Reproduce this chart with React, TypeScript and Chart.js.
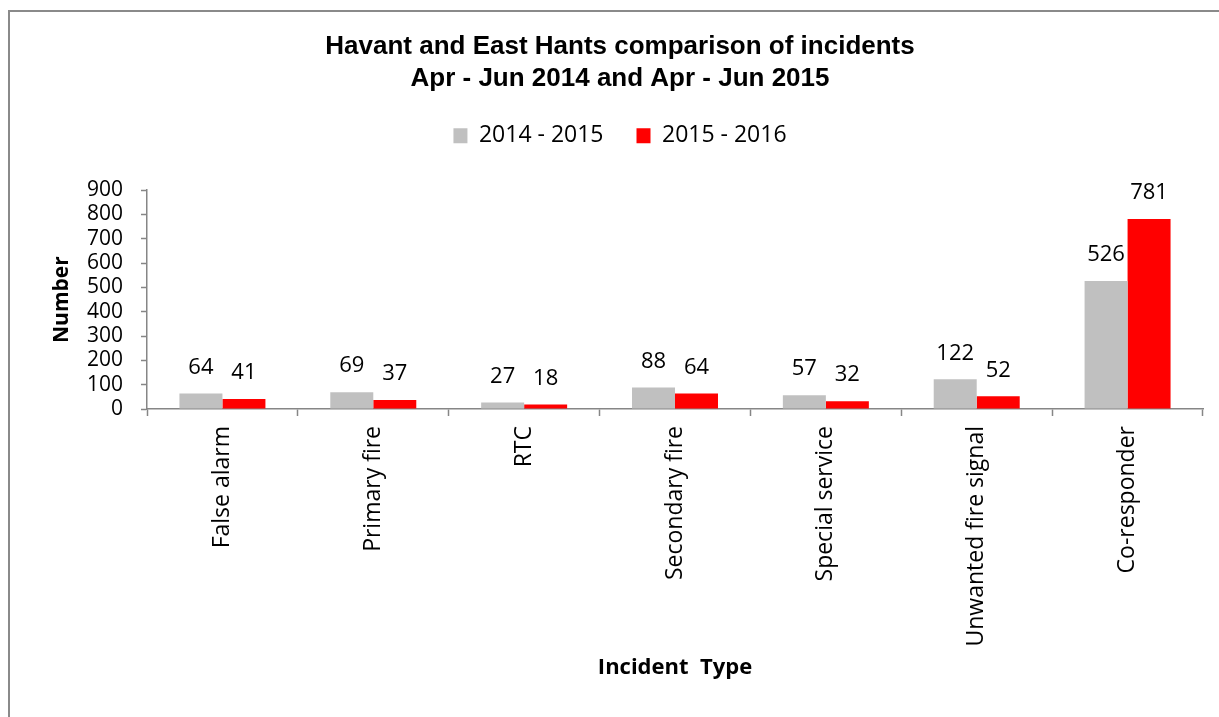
import React, { useEffect, useRef } from "react";
import { Chart, registerables } from "chart.js";

Chart.register(...registerables);

const categories = [
  "False alarm",
  "Primary fire",
  "RTC",
  "Secondary fire",
  "Special service",
  "Unwanted fire signal",
  "Co-responder",
];
const series2014 = [64, 69, 27, 88, 57, 122, 526];
const series2015 = [41, 37, 18, 64, 32, 52, 781];
const yMin = 0;
const yMax = 900;
const yStep = 100;
const titleLines = ["Havant and East Hants comparison of incidents", "Apr - Jun 2014 and Apr - Jun 2015"];

const AXIS = "#868686";
const BODY = "'Open Sans', 'Noto Sans', sans-serif";
const CANVAS_W = 1240;
const CANVAS_H = 717;

const dataLabels = {
  id: "dataLabels",
  afterDatasetsDraw(chart: any) {
    const ctx = chart.ctx;
    ctx.save();
    ctx.font = `22px ${BODY}`;
    ctx.fillStyle = "#000";
    ctx.textAlign = "center";
    ctx.textBaseline = "middle";
    chart.data.datasets.forEach((ds: any, i: number) => {
      const meta = chart.getDatasetMeta(i);
      meta.data.forEach((el: any, j: number) => {
        ctx.fillText(String(ds.data[j]), el.x, el.y - 26);
      });
    });
    ctx.restore();
  },
};

export default function App() {
  const ref = useRef<HTMLCanvasElement>(null);
  useEffect(() => {
    if (!ref.current) return;
    const chart = new Chart(ref.current, {
      type: "bar",
      data: {
        labels: categories,
        datasets: [
          { label: "2014 - 2015", data: series2014, backgroundColor: "#C0C0C0", categoryPercentage: 0.57, barPercentage: 1, xAxisID: "x", yAxisID: "y" },
          { label: "2015 - 2016", data: series2015, backgroundColor: "#FF0000", categoryPercentage: 0.57, barPercentage: 1, xAxisID: "x", yAxisID: "y" },
        ],
      },
      options: {
        responsive: false,
        animation: false,
        layout: { padding: { left: 10, right: 10, top: 12, bottom: 0 } },
        plugins: {
          title: {
            display: true,
            text: titleLines,
            color: "#000",
            font: { family: "'Liberation Sans', Arial, sans-serif", size: 26, weight: "bold", lineHeight: 1.215 },
            padding: { top: 19, bottom: -3 },
          },
          legend: {
            display: true,
            position: "top",
            labels: {
              color: "#000",
              font: { family: BODY, size: 23 },
              boxWidth: 14,
              boxHeight: 15,
              padding: 33,
            },
          },
          tooltip: { enabled: false },
        },
        scales: {
          x: {
            position: "bottom",
            grid: { display: true, drawOnChartArea: false, offset: true, tickLength: 7, color: AXIS, tickWidth: 1.5 },
            border: { display: true, color: AXIS, width: 1.5 },
            ticks: {
              autoSkip: false,
              maxRotation: 90,
              minRotation: 90,
              padding: 10,
              color: "#000",
              font: { family: BODY, size: 23 },
            },
            title: {
              display: true,
              text: "Incident  Type",
              color: "#000",
              font: { family: BODY, size: 22, weight: "bold", lineHeight: 1.2 },
              padding: { top: 0, bottom: 36 },
            },
            afterFit: (s: any) => {
              s.height = 308;
            },
          },
          gapTop: {
            type: "category",
            position: "top",
            display: true,
            grid: { display: false },
            border: { display: false },
            ticks: { display: false },
            afterFit: (s: any) => {
              s.height = 33;
            },
          },
          y: {
            min: yMin,
            max: yMax,
            grid: { display: true, drawOnChartArea: false, tickLength: 6, color: AXIS, tickWidth: 1.5 },
            border: { display: true, color: AXIS, width: 1.5 },
            ticks: {
              stepSize: yStep,
              autoSkip: false,
              padding: 18,
              color: "#000",
              font: { family: BODY, size: 21 },
            },
            title: {
              display: true,
              text: "Number",
              color: "#000",
              font: { family: BODY, size: 21, weight: "bold", lineHeight: 1.2 },
              padding: { top: 39, bottom: 0 },
            },
            afterFit: (s: any) => {
              s.width = 137;
            },
          },
          gapRight: {
            type: "linear",
            position: "right",
            display: true,
            grid: { display: false },
            border: { display: false },
            ticks: { display: false },
            afterFit: (s: any) => {
              s.width = 27;
            },
          },
        },
      },
      plugins: [dataLabels],
    } as any);
    return () => chart.destroy();
  }, []);

  return (
    <div style={{ position: "fixed", left: 0, top: 0, width: 1219, height: 717, background: "#fff", overflow: "hidden" }}>
      <div
        style={{
          position: "absolute",
          left: 8,
          top: 10,
          width: 1300,
          height: 800,
          borderLeft: "2px solid #8a8a8a",
          borderTop: "2px solid #8a8a8a",
        }}
      />
      <canvas
        ref={ref}
        width={CANVAS_W}
        height={CANVAS_H}
        style={{ position: "absolute", left: 0, top: 0, width: CANVAS_W, height: CANVAS_H }}
      />
    </div>
  );
}
